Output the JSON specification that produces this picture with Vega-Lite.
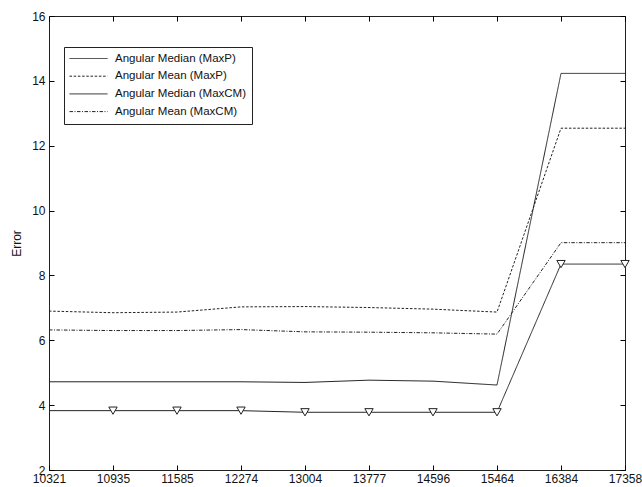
{
  "$schema": "https://vega.github.io/schema/vega-lite/v6.json",
  "width": 576,
  "height": 454,
  "autosize": {"type": "none"},
  "padding": {"left": 49, "top": 16, "right": 17, "bottom": 17},
  "background": "white",
  "config": {
    "font": "Liberation Sans",
    "view": {"stroke": "#222", "strokeWidth": 1},
    "axis": {"labelFont": "Liberation Sans", "labelFontSize": 12, "labelColor": "#111", "titleFont": "Liberation Sans", "titleFontSize": 12, "titleFontWeight": "normal", "titleColor": "#111", "grid": false, "tickColor": "#000", "tickWidth": 1, "domainColor": "#222"}
  },
  "data": {"values": [
    {"x": "10321", "series": "Angular Median (MaxP)", "value": 4.72},
    {"x": "10935", "series": "Angular Median (MaxP)", "value": 4.72},
    {"x": "11585", "series": "Angular Median (MaxP)", "value": 4.72},
    {"x": "12274", "series": "Angular Median (MaxP)", "value": 4.72},
    {"x": "13004", "series": "Angular Median (MaxP)", "value": 4.70},
    {"x": "13777", "series": "Angular Median (MaxP)", "value": 4.77},
    {"x": "14596", "series": "Angular Median (MaxP)", "value": 4.74},
    {"x": "15464", "series": "Angular Median (MaxP)", "value": 4.62},
    {"x": "16384", "series": "Angular Median (MaxP)", "value": 14.23},
    {"x": "17358", "series": "Angular Median (MaxP)", "value": 14.23},
    {"x": "10321", "series": "Angular Mean (MaxP)", "value": 6.90},
    {"x": "10935", "series": "Angular Mean (MaxP)", "value": 6.85},
    {"x": "11585", "series": "Angular Mean (MaxP)", "value": 6.87},
    {"x": "12274", "series": "Angular Mean (MaxP)", "value": 7.03},
    {"x": "13004", "series": "Angular Mean (MaxP)", "value": 7.04},
    {"x": "13777", "series": "Angular Mean (MaxP)", "value": 7.01},
    {"x": "14596", "series": "Angular Mean (MaxP)", "value": 6.96},
    {"x": "15464", "series": "Angular Mean (MaxP)", "value": 6.87},
    {"x": "16384", "series": "Angular Mean (MaxP)", "value": 12.54},
    {"x": "17358", "series": "Angular Mean (MaxP)", "value": 12.54},
    {"x": "10321", "series": "Angular Median (MaxCM)", "value": 3.83},
    {"x": "10935", "series": "Angular Median (MaxCM)", "value": 3.83},
    {"x": "11585", "series": "Angular Median (MaxCM)", "value": 3.83},
    {"x": "12274", "series": "Angular Median (MaxCM)", "value": 3.83},
    {"x": "13004", "series": "Angular Median (MaxCM)", "value": 3.78},
    {"x": "13777", "series": "Angular Median (MaxCM)", "value": 3.78},
    {"x": "14596", "series": "Angular Median (MaxCM)", "value": 3.78},
    {"x": "15464", "series": "Angular Median (MaxCM)", "value": 3.78},
    {"x": "16384", "series": "Angular Median (MaxCM)", "value": 8.35},
    {"x": "17358", "series": "Angular Median (MaxCM)", "value": 8.35},
    {"x": "10321", "series": "Angular Mean (MaxCM)", "value": 6.32},
    {"x": "10935", "series": "Angular Mean (MaxCM)", "value": 6.30},
    {"x": "11585", "series": "Angular Mean (MaxCM)", "value": 6.30},
    {"x": "12274", "series": "Angular Mean (MaxCM)", "value": 6.33},
    {"x": "13004", "series": "Angular Mean (MaxCM)", "value": 6.26},
    {"x": "13777", "series": "Angular Mean (MaxCM)", "value": 6.25},
    {"x": "14596", "series": "Angular Mean (MaxCM)", "value": 6.23},
    {"x": "15464", "series": "Angular Mean (MaxCM)", "value": 6.19},
    {"x": "16384", "series": "Angular Mean (MaxCM)", "value": 9.01},
    {"x": "17358", "series": "Angular Mean (MaxCM)", "value": 9.01}
  ]},
  "resolve": {"axis": {"x": "independent", "y": "independent"}},
  "layer": [
    {
      "mark": {"type": "line", "color": "#222", "strokeWidth": 1},
      "encoding": {
        "x": {"field": "x", "type": "ordinal", "sort": null, "scale": {"type": "point", "padding": 0},
              "axis": {"title": null, "labelAngle": 0, "ticks": true, "tickSize": -5, "labelPadding": 8, "domain": false}},
        "y": {"field": "value", "type": "quantitative", "scale": {"domain": [2, 16], "nice": false, "zero": false},
              "axis": {"title": "Error", "values": [2, 4, 6, 8, 10, 12, 14, 16], "ticks": true, "tickSize": -5, "labelPadding": 9, "titlePadding": 8, "domain": false}},
        "strokeDash": {"field": "series", "type": "nominal",
              "scale": {"domain": ["Angular Median (MaxP)", "Angular Mean (MaxP)", "Angular Median (MaxCM)", "Angular Mean (MaxCM)"],
                        "range": [[1, 0], [2.5, 1.7], [1, 0], [3.5, 1.5, 1, 1.5]]},
              "legend": {
                "title": null,
                "orient": "none",
                "legendX": 15,
                "legendY": 31,
                "symbolType": "stroke",
                "symbolSize": 1444,
                "symbolStrokeWidth": 1,
                "symbolStrokeColor": "#222",
                "labelFontSize": 11.5,
                "labelFont": "Liberation Sans",
                "labelColor": "#111",
                "labelOffset": 7,
                "clipHeight": 13,
                "rowPadding": 4.7,
                "padding": 5,
                "strokeColor": "#222",
                "fillColor": "white"
              }},
        "detail": {"field": "series"}
      }
    },
    {
      "transform": [
        {"filter": "datum.series === 'Angular Median (MaxCM)' && datum.x !== '10321'"}
      ],
      "mark": {"type": "point", "shape": "triangle-down", "size": 70, "filled": true, "fill": "white", "stroke": "#222", "strokeWidth": 1, "opacity": 1},
      "encoding": {
        "x": {"field": "x", "type": "ordinal", "sort": null,
              "axis": {"orient": "top", "title": null, "labels": false, "ticks": true, "tickSize": -5, "domain": false}},
        "y": {"field": "value", "type": "quantitative",
              "axis": {"orient": "right", "title": null, "labels": false, "ticks": true, "values": [2, 4, 6, 8, 10, 12, 14, 16], "tickSize": -5, "domain": false}}
      }
    }
  ]
}
